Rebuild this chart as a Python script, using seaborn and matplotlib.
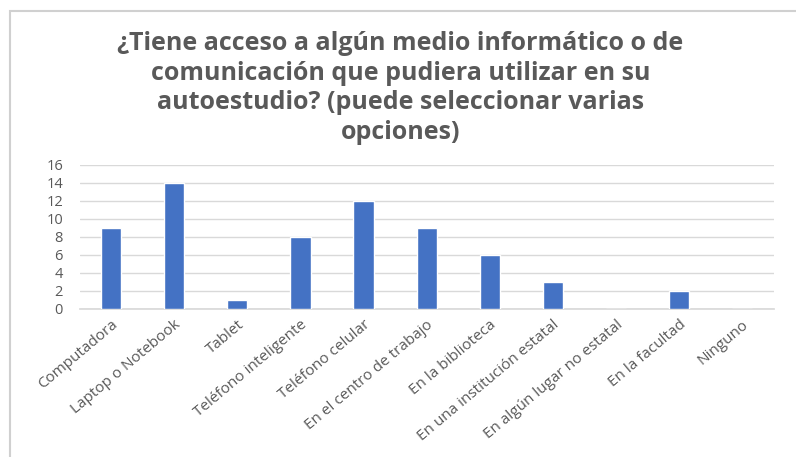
import matplotlib
matplotlib.use('Agg')
import matplotlib.pyplot as plt
import seaborn as sns
import pandas as pd
from matplotlib.patches import Rectangle

# datos
categorias = ['Computadora', 'Laptop o Notebook', 'Tablet', 'Teléfono inteligente',
              'Teléfono celular', 'En el centro de trabajo', 'En la biblioteca',
              'En una institución estatal', 'En algún lugar no estatal',
              'En la facultad', 'Ninguno']
valores = [9, 14, 1, 8, 12, 9, 6, 3, 0, 2, 0]
yticks = [0, 2, 4, 6, 8, 10, 12, 14, 16]
titulo = ('¿Tiene acceso a algún medio informático o de\n'
          'comunicación que pudiera utilizar en su\n'
          'autoestudio? (puede seleccionar varias\n'
          'opciones)')

sns.set_theme(style='white')
plt.rcParams['font.family'] = ['Open Sans', 'DejaVu Sans']

df = pd.DataFrame({'cat': categorias, 'val': valores})

fig = plt.figure(figsize=(7.96, 4.57), dpi=100)
ax = fig.add_axes([0.100, 0.324, 0.872, 0.315])

sns.barplot(data=df, x='cat', y='val', color='#4472C4', width=0.32,
            saturation=1, ax=ax, zorder=3)

ax.set_ylim(0, 16)
ax.set_xlim(-0.5, len(categorias) - 0.5)
ax.set_yticks(yticks)
ax.yaxis.grid(True, color='#D9D9D9', linewidth=1, zorder=0)
ax.set_xlabel('')
ax.set_ylabel('')
for s in ['top', 'right', 'left']:
    ax.spines[s].set_visible(False)
ax.spines['bottom'].set_color('#D9D9D9')
ax.tick_params(axis='y', labelsize=10.5, colors='#595959', length=0, pad=12)
ax.tick_params(axis='x', labelsize=11, colors='#595959', length=0, pad=6)
plt.setp(ax.get_xticklabels(), rotation=40, ha='right', rotation_mode='anchor')

fig.text(0.503, 0.932, titulo, ha='center', va='top', fontsize=18,
         fontweight='bold', color='#595959', linespacing=1.24)

# borde del área del gráfico
fig.add_artist(Rectangle((0.013, -0.05), 1.2, 1.027, transform=fig.transFigure,
                         fill=False, edgecolor='#D0D0D0', linewidth=1.5))

fig.savefig('out.png', dpi=100)
